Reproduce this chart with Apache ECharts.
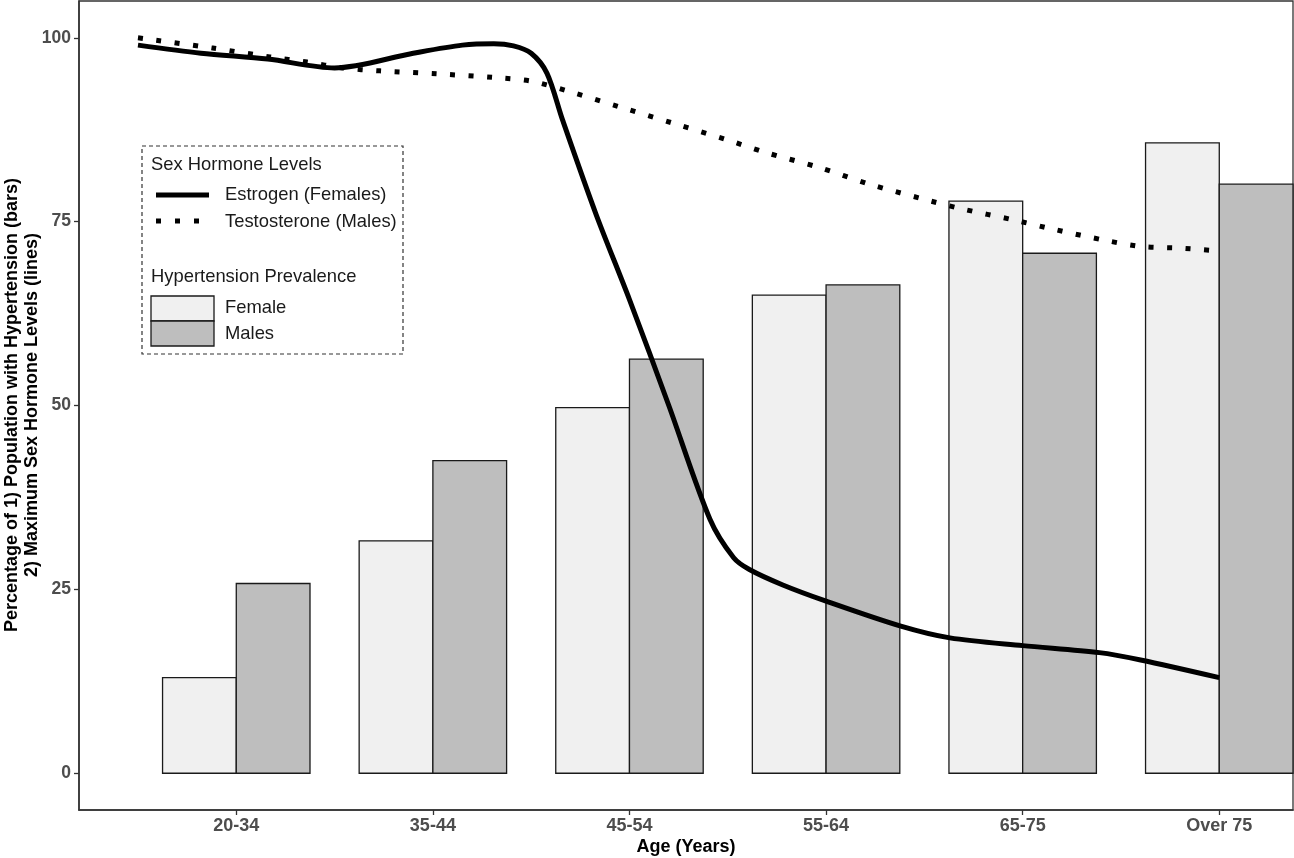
<!DOCTYPE html>
<html>
<head>
<meta charset="utf-8">
<script src="https://cdn.jsdelivr.net/npm/echarts@6/dist/echarts.min.js"></script>
<style>
html,body{margin:0;padding:0;background:#fff;}
#chart{width:1294px;height:858px;}
</style>
</head>
<body>
<div id="chart"></div>
<script>
// ---- data ----
var categories = ['20-34', '35-44', '45-54', '55-64', '65-75', 'Over 75'];
var categoryPos = [1, 2, 3, 4, 5, 6];
var femaleBars = [13.0, 31.6, 49.7, 65.0, 77.8, 85.7];
var maleBars = [25.8, 42.5, 56.3, 66.4, 70.7, 80.1];

var estrogenX = [0.5, 0.82, 1.16, 1.5, 1.9, 2.15, 2.31, 2.41, 2.5, 2.58, 2.66, 2.83, 3.0, 3.2, 3.41, 3.53, 3.61, 3.78, 4.0, 4.38, 4.63, 5.0, 5.39, 5.6, 6.0];
var estrogenY = [99.0, 97.9, 97.1, 95.9, 97.9, 99.0, 99.2, 98.9, 97.9, 95.2, 88.8, 76.0, 64.4, 50.0, 34.5, 29.3, 27.7, 25.6, 23.4, 20.0, 18.4, 17.35, 16.4, 15.4, 13.0];

var testoX = [0.5, 0.88, 1.17, 1.36, 1.54, 1.73, 2.02, 2.31, 2.5, 2.68, 2.95, 3.22, 3.5, 3.68, 3.96, 4.22, 4.49, 4.68, 4.96, 5.15, 5.43, 5.61, 5.8, 6.0];
var testoY = [100.0, 98.6, 97.4, 96.7, 95.9, 95.5, 95.1, 94.6, 94.1, 92.8, 90.6, 88.4, 86.1, 84.5, 82.4, 80.1, 78.1, 76.8, 75.2, 74.0, 72.4, 71.6, 71.4, 71.0];

var yTicks = [0, 25, 50, 75, 100];

// ---- chart ----
var FONT = '"Liberation Sans", Arial, sans-serif';
var BAR_W = 0.375;
var LEG_FONT = '18.4px ' + FONT;

function zip(a, b) { return a.map(function (v, i) { return [v, b[i]]; }); }

function barRenderer(side, fill) {
  return function (params, api) {
    var x = api.value(0), y = api.value(1);
    var x0 = side < 0 ? x - BAR_W : x;
    var x1 = side < 0 ? x : x + BAR_W;
    var pTop = api.coord([x0, y]);
    var pBot = api.coord([x1, 0]);
    return {
      type: 'rect',
      shape: { x: pTop[0], y: pTop[1], width: pBot[0] - pTop[0], height: pBot[1] - pTop[1] },
      style: { fill: fill, stroke: '#1a1a1a', lineWidth: 1.3 }
    };
  };
}

var chart = echarts.init(document.getElementById('chart'), null, { renderer: 'canvas' });

var option = {
  animation: false,
  backgroundColor: '#ffffff',
  grid: { left: 79, top: 1, width: 1214, height: 809, show: true, borderColor: '#333333', borderWidth: 1.3, backgroundColor: 'transparent' },
  xAxis: {
    type: 'value', min: 0.2, max: 6.375,
    axisLine: { show: true, onZero: false, lineStyle: { color: '#333333', width: 1.6 } },
    axisTick: { show: true, customValues: categoryPos, length: 5, lineStyle: { color: '#333333', width: 1.3 } },
    axisLabel: {
      customValues: categoryPos, margin: 7,
      formatter: function (v) { var i = categoryPos.indexOf(v); return i >= 0 ? categories[i] : ''; },
      color: '#4d4d4d', fontSize: 18, fontWeight: 'bold', fontFamily: FONT
    },
    splitLine: { show: false }
  },
  yAxis: {
    type: 'value', min: -5, max: 105,
    axisLine: { show: true, onZero: false, lineStyle: { color: '#333333', width: 1.6 } },
    axisTick: { show: true, customValues: yTicks, length: 5, lineStyle: { color: '#333333', width: 1.3 } },
    axisLabel: {
      customValues: yTicks, margin: 8,
      color: '#4d4d4d', fontSize: 17.5, fontWeight: 'bold', fontFamily: FONT
    },
    splitLine: { show: false }
  },
  series: [
    { type: 'custom', name: 'Female', renderItem: barRenderer(-1, '#f0f0f0'), data: zip(categoryPos, femaleBars), z: 2 },
    { type: 'custom', name: 'Males', renderItem: barRenderer(1, '#bebebe'), data: zip(categoryPos, maleBars), z: 2 },
    {
      type: 'line', name: 'Estrogen (Females)', data: zip(estrogenX, estrogenY), smooth: 0.3,
      showSymbol: false, lineStyle: { color: '#000000', width: 5 }, z: 5
    },
    {
      type: 'line', name: 'Testosterone (Males)', data: zip(testoX, testoY), smooth: 0.3,
      showSymbol: false, lineStyle: { color: '#000000', width: 5, type: [5, 13.5], cap: 'butt' }, z: 5
    }
  ],
  graphic: [
    { type: 'rect', shape: { x: 142, y: 146, width: 261, height: 208 },
      style: { fill: '#ffffff', stroke: '#333333', lineWidth: 1.2, lineDash: [4, 3] }, z: 10 },
    { type: 'text', x: 151, y: 165, style: { text: 'Sex Hormone Levels', font: LEG_FONT, fill: '#1a1a1a', verticalAlign: 'middle' }, z: 11 },
    { type: 'line', shape: { x1: 156, y1: 195, x2: 209, y2: 195 }, style: { stroke: '#000', lineWidth: 5 }, z: 11 },
    { type: 'text', x: 225, y: 195, style: { text: 'Estrogen (Females)', font: LEG_FONT, fill: '#1a1a1a', verticalAlign: 'middle' }, z: 11 },
    { type: 'line', shape: { x1: 156, y1: 221, x2: 209, y2: 221 }, style: { stroke: '#000', lineWidth: 5, lineDash: [5, 14], lineCap: 'butt' }, z: 11 },
    { type: 'text', x: 225, y: 222, style: { text: 'Testosterone (Males)', font: LEG_FONT, fill: '#1a1a1a', verticalAlign: 'middle' }, z: 11 },
    { type: 'text', x: 151, y: 277, style: { text: 'Hypertension Prevalence', font: LEG_FONT, fill: '#1a1a1a', verticalAlign: 'middle' }, z: 11 },
    { type: 'rect', shape: { x: 151, y: 296, width: 63, height: 25 }, style: { fill: '#f0f0f0', stroke: '#1a1a1a', lineWidth: 1.3 }, z: 11 },
    { type: 'rect', shape: { x: 151, y: 321, width: 63, height: 25 }, style: { fill: '#bebebe', stroke: '#1a1a1a', lineWidth: 1.3 }, z: 11 },
    { type: 'text', x: 225, y: 308, style: { text: 'Female', font: LEG_FONT, fill: '#1a1a1a', verticalAlign: 'middle' }, z: 11 },
    { type: 'text', x: 225, y: 334, style: { text: 'Males', font: LEG_FONT, fill: '#1a1a1a', verticalAlign: 'middle' }, z: 11 },
    { type: 'text', x: 686, y: 847, style: { text: 'Age (Years)', font: 'bold 18px ' + FONT, fill: '#000', align: 'center', verticalAlign: 'middle' }, z: 11 },
    { type: 'text', x: 22, y: 405, rotation: Math.PI / 2,
      style: { text: 'Percentage of 1) Population with Hypertension (bars)\n2) Maximum Sex Hormone Levels (lines)', font: 'bold 18px ' + FONT, fill: '#000', align: 'center', verticalAlign: 'middle', lineHeight: 20 }, z: 11 }
  ]
};
chart.setOption(option);
</script>
</body>
</html>
